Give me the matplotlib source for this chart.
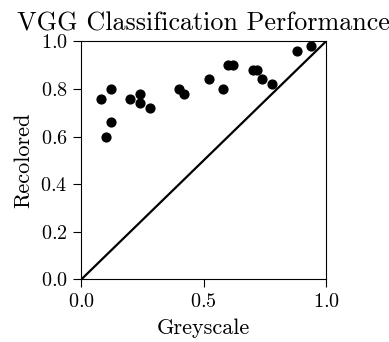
import matplotlib
matplotlib.use('Agg')
import matplotlib.pyplot as plt

plt.rcParams['font.family'] = 'serif'
plt.rcParams['font.serif'] = ['cmr10']
plt.rcParams['mathtext.fontset'] = 'cm'
plt.rcParams['axes.formatter.use_mathtext'] = True

# greyscale vs recolored accuracy per class
greyscale = [0.08, 0.10, 0.12, 0.12, 0.20, 0.24, 0.24, 0.28, 0.40, 0.42,
             0.52, 0.58, 0.60, 0.62, 0.70, 0.72, 0.74, 0.78, 0.88, 0.94]
recolored = [0.76, 0.60, 0.80, 0.66, 0.76, 0.78, 0.74, 0.72, 0.80, 0.78,
             0.84, 0.80, 0.90, 0.90, 0.88, 0.88, 0.84, 0.82, 0.96, 0.98]
diag = [0.0, 1.0]

fig = plt.figure(figsize=(3.89, 3.42), dpi=100)
ax = fig.add_axes([0.209, 0.183, 0.629, 0.696])

ax.plot(diag, diag, color='black', linewidth=1.6)
ax.scatter(greyscale, recolored, s=40, color='black', zorder=3)

ax.set_xlim(0, 1)
ax.set_ylim(0, 1)
ax.set_xticks([0.0, 0.5, 1.0])
ax.set_yticks([0.0, 0.2, 0.4, 0.6, 0.8, 1.0])
ax.tick_params(labelsize=14.5, direction='out', length=6, pad=4)
ax.set_xlabel('Greyscale', fontsize=16, labelpad=5)
ax.set_ylabel('Recolored', fontsize=16, labelpad=5)
ax.set_title('VGG Classification Performance', fontsize=18.8, pad=8)

fig.savefig('out.png', dpi=100)
